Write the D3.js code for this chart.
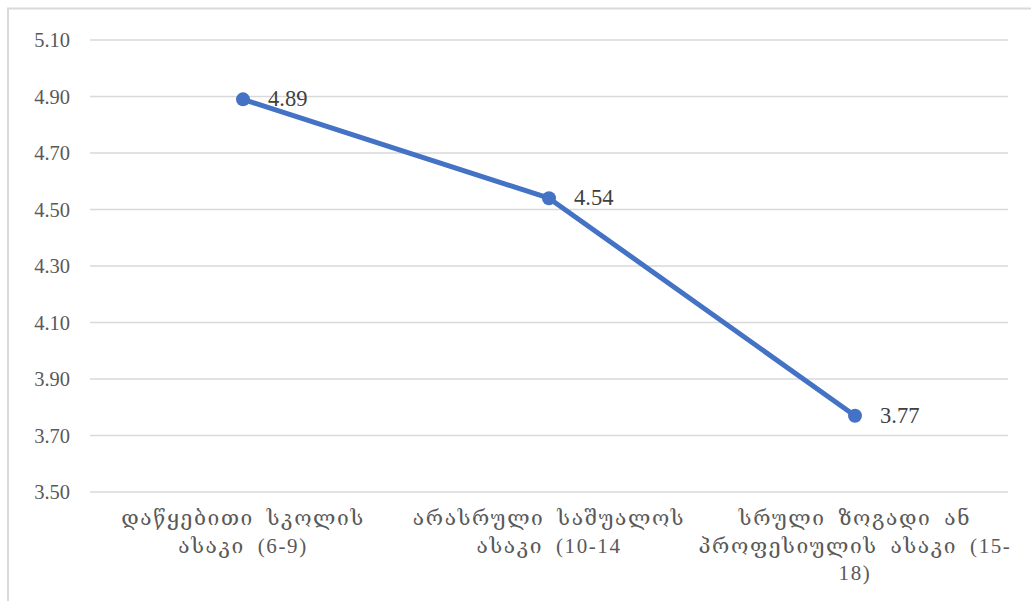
<!DOCTYPE html>
<html><head><meta charset="utf-8">
<script src="https://cdn.jsdelivr.net/npm/d3@7"></script>
<style>
html,body{margin:0;padding:0;background:#fff;}
svg{display:block;}
</style></head>
<body>
<svg id="chart" width="1031" height="601"></svg>
<script>
const categories = ["cat1", "cat2", "cat3"];
const categoryLines = [
  ["დაწყებითი სკოლის", "ასაკი (6-9)"],
  ["არასრული საშუალოს", "ასაკი (10-14"],
  ["სრული ზოგადი ან", "პროფესიულის ასაკი (15-", "18)"]
];
const values = [4.89, 4.54, 3.77];
const yTicks = [3.50, 3.70, 3.90, 4.10, 4.30, 4.50, 4.70, 4.90, 5.10];

const svg = d3.select("#chart");
const font = "'Liberation Serif', 'DejaVu Serif', serif";

// outer border
svg.append("rect").attr("x", 8).attr("y", 8.5).attr("width", 1040).attr("height", 620)
  .attr("fill", "none").attr("stroke", "#d9d9d9").attr("stroke-width", 2);

const x = d3.scaleBand().domain(categories).range([90, 1008]);
const y = d3.scaleLinear().domain([3.5, 5.1]).range([492, 40]);

// gridlines
svg.append("g").selectAll("line").data(yTicks).join("line")
  .attr("x1", 90).attr("x2", 1008)
  .attr("y1", d => y(d)).attr("y2", d => y(d))
  .attr("stroke", "#d9d9d9").attr("stroke-width", 1.5);

// y axis labels
svg.append("g").selectAll("text").data(yTicks).join("text")
  .attr("x", 70).attr("y", d => y(d)).attr("dy", "0.35em")
  .attr("text-anchor", "end")
  .attr("font-family", font).attr("font-size", 20.5).attr("fill", "#595959")
  .text(d => d.toFixed(2));

// category labels
const cx = d => x(d) + x.bandwidth() / 2;
const lab = svg.append("g");
categories.forEach((c, i) => {
  const t = lab.append("text")
    .attr("text-anchor", "middle")
    .attr("font-family", font).attr("font-size", 21).attr("fill", "#595959")
    .attr("letter-spacing", 1.6).attr("word-spacing", 6);
  categoryLines[i].forEach((ln, j) => {
    t.append("tspan").attr("x", cx(c)).attr("y", 525 + j * 27.5).text(ln);
  });
});

// line
const line = d3.line().x((d, i) => cx(categories[i])).y(d => y(d));
svg.append("path").datum(values).attr("d", line)
  .attr("fill", "none").attr("stroke", "#4472C4").attr("stroke-width", 5)
  .attr("stroke-linejoin", "round").attr("stroke-linecap", "round");

svg.append("g").selectAll("circle").data(values).join("circle")
  .attr("cx", (d, i) => cx(categories[i])).attr("cy", d => y(d)).attr("r", 7)
  .attr("fill", "#4472C4");

// data labels
svg.append("g").selectAll("text").data(values).join("text")
  .attr("x", (d, i) => cx(categories[i]) + 25).attr("y", d => y(d) - 1).attr("dy", "0.35em")
  .attr("font-family", font).attr("font-size", 22.5).attr("fill", "#404040")
  .text(d => d.toFixed(2));
</script>
</body></html>
